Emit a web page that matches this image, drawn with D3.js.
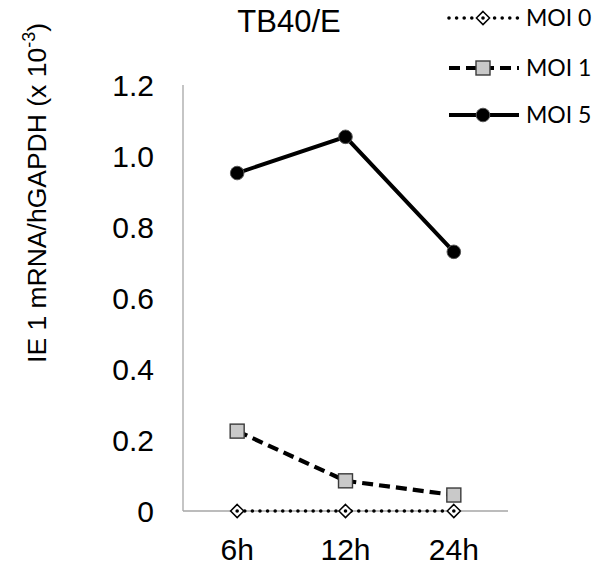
<!DOCTYPE html>
<html>
<head>
<meta charset="utf-8">
<script src="https://cdn.jsdelivr.net/npm/d3@7"></script>
<style>
  body { margin: 0; background: #fff; }
</style>
</head>
<body>
<div id="chart"></div>
<script>
// data
const timepoints = ["6h", "12h", "24h"];
const moi0 = [0, 0, 0];
const moi1 = [0.225, 0.085, 0.045];
const moi5 = [0.952, 1.054, 0.73];
const yTicks = [0, 0.2, 0.4, 0.6, 0.8, 1.0, 1.2];

const seriesList = [
  { name: "MOI 0", values: moi0, kind: "dot" },
  { name: "MOI 1", values: moi1, kind: "dash" },
  { name: "MOI 5", values: moi5, kind: "solid" }
];

const width = 593, height = 569;
const margin = { left: 183, right: 85, top: 85, bottom: 58 };

const svg = d3.select("#chart").append("svg")
  .attr("width", width)
  .attr("height", height)
  .style("font-family", "'Liberation Sans', Arial, sans-serif");

const x = d3.scaleBand()
  .domain(timepoints)
  .range([margin.left, width - margin.right]);

const y = d3.scaleLinear()
  .domain([0, 1.2])
  .range([height - margin.bottom, margin.top]);

// axes lines
svg.append("line")
  .attr("x1", margin.left).attr("x2", margin.left)
  .attr("y1", y(1.2)).attr("y2", y(0))
  .attr("stroke", "#a6a6a6").attr("stroke-width", 1.3);
svg.append("line")
  .attr("x1", margin.left).attr("x2", width - margin.right)
  .attr("y1", y(0)).attr("y2", y(0))
  .attr("stroke", "#a6a6a6").attr("stroke-width", 1.3);

// tick labels
svg.selectAll(".ytick")
  .data(yTicks)
  .enter().append("text")
  .attr("class", "ytick")
  .attr("x", margin.left - 29)
  .attr("y", d => y(d))
  .attr("dy", "0.36em")
  .attr("text-anchor", "end")
  .attr("font-size", 30)
  .text(d => d === 0 ? "0" : d3.format(".1f")(d));

svg.selectAll(".xtick")
  .data(timepoints)
  .enter().append("text")
  .attr("class", "xtick")
  .attr("x", d => x(d) + x.bandwidth() / 2)
  .attr("y", height - 9)
  .attr("text-anchor", "middle")
  .attr("font-size", 30)
  .text(d => d);

// title
svg.append("text")
  .attr("x", 289).attr("y", 32)
  .attr("text-anchor", "middle")
  .attr("font-size", 31)
  .text("TB40/E");

// y axis title
const yt = svg.append("text")
  .attr("transform", "translate(46,193) rotate(-90)")
  .attr("text-anchor", "middle")
  .attr("font-size", 26.5);
yt.append("tspan").text("IE 1 mRNA/hGAPDH  (x 10");
yt.append("tspan").attr("font-size", 18).attr("dy", -11).text("-3");
yt.append("tspan").attr("dy", 11).text(")");

// lines and markers
const line = d3.line()
  .x((d, i) => x(timepoints[i]) + x.bandwidth() / 2)
  .y(d => y(d));

function styleLine(sel, kind) {
  sel.attr("fill", "none").attr("stroke", "#000");
  if (kind === "dot") {
    sel.attr("stroke-width", 3.6).attr("stroke-dasharray", "0 7.6").attr("stroke-linecap", "round");
  } else if (kind === "dash") {
    sel.attr("stroke-width", 4.2).attr("stroke-dasharray", "11 6");
  } else {
    sel.attr("stroke-width", 4);
  }
  return sel;
}

function drawMarker(g, kind, cx, cy) {
  if (kind === "dot") {
    g.append("path")
      .attr("d", d3.symbol(d3.symbolDiamond2, 110)())
      .attr("transform", `translate(${cx},${cy})`)
      .attr("fill", "#fff").attr("stroke", "#000").attr("stroke-width", 1.5);
    g.append("circle").attr("cx", cx).attr("cy", cy).attr("r", 1.8).attr("fill", "#000");
  } else if (kind === "dash") {
    g.append("rect")
      .attr("x", cx - 7).attr("y", cy - 7).attr("width", 14).attr("height", 14)
      .attr("fill", "#c9c9c9").attr("stroke", "#3a3a3a").attr("stroke-width", 1.4);
  } else {
    g.append("circle")
      .attr("cx", cx).attr("cy", cy).attr("r", 6.8)
      .attr("fill", "#000").attr("stroke", "#555").attr("stroke-width", 1);
  }
}

seriesList.forEach(s => {
  styleLine(svg.append("path").datum(s.values).attr("d", line), s.kind);
});
seriesList.forEach(s => {
  const g = svg.append("g");
  s.values.forEach((v, i) => drawMarker(g, s.kind, x(timepoints[i]) + x.bandwidth() / 2, y(v)));
});

// legend
const legendY = [18, 68, 115];
seriesList.forEach((s, i) => {
  const g = svg.append("g");
  styleLine(g.append("line")
    .attr("x1", 449).attr("x2", 519)
    .attr("y1", legendY[i]).attr("y2", legendY[i]), s.kind);
  drawMarker(g, s.kind, 483, legendY[i]);
  g.append("text")
    .attr("x", 526).attr("y", legendY[i])
    .attr("dy", "0.36em")
    .attr("font-family", "Lato, 'Open Sans', sans-serif")
    .attr("font-size", 23)
    .text(s.name);
});
</script>
</body>
</html>
